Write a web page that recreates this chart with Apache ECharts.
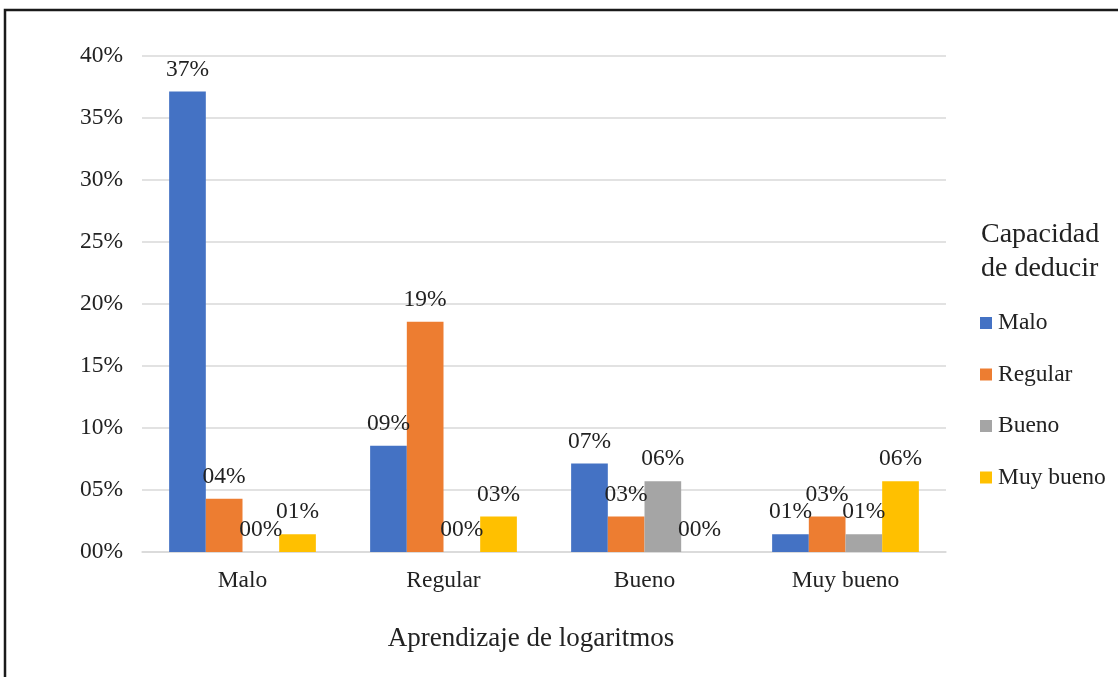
<!DOCTYPE html>
<html>
<head>
<meta charset="utf-8">
<script src="https://cdn.jsdelivr.net/npm/echarts@6/dist/echarts.min.js"></script>
<style>
  html, body { margin: 0; padding: 0; background: #fff; }
  #chart { width: 1118px; height: 677px; }
</style>
</head>
<body>
<div id="chart"></div>
<script>
// Aprendizaje de logaritmos vs. capacidad de deducir (porcentaje del total)
const categories = ['Malo', 'Regular', 'Bueno', 'Muy bueno'];
const seriesNames = ['Malo', 'Regular', 'Bueno', 'Muy bueno'];
const valMalo     = [37.14, 8.57, 7.14, 1.43];
const valRegular  = [4.29, 18.57, 2.86, 2.86];
const valBueno    = [0.00, 0.00, 5.71, 1.43];
const valMuyBueno = [1.43, 2.86, 0.00, 5.71];
const yTicks = { min: 0, max: 40, step: 5 };
const colors = ['#4472C4', '#ED7D31', '#A5A5A5', '#FFC000'];

const FONT = '"Liberation Serif", "Times New Roman", serif';
const TEXT = '#222222';
const pct = v => String(Math.round(v)).padStart(2, '0') + '%';

const seriesValues = [valMalo, valRegular, valBueno, valMuyBueno];

const chart = echarts.init(document.getElementById('chart'), null, { renderer: 'canvas' });

chart.setOption({
  backgroundColor: '#fff',
  animation: false,
  textStyle: { fontFamily: FONT, color: TEXT },
  title: {
    text: 'Capacidad\nde deducir',
    left: 981,
    top: 218,
    padding: 0,
    textStyle: { fontFamily: FONT, fontSize: 28, fontWeight: 'normal', color: TEXT, lineHeight: 34 }
  },
  legend: {
    orient: 'vertical',
    left: 980,
    top: 311,
    padding: 0,
    itemWidth: 12,
    itemHeight: 12,
    itemGap: 27.5,
    icon: 'rect',
    data: seriesNames,
    textStyle: { fontFamily: FONT, fontSize: 23.5, color: TEXT, padding: [0, 0, 0, 1] }
  },
  grid: { left: 142, right: 172, top: 56, bottom: 125, containLabel: false },
  xAxis: {
    type: 'category',
    data: categories,
    name: 'Aprendizaje de logaritmos',
    nameLocation: 'middle',
    nameGap: 73,
    nameTextStyle: { fontFamily: FONT, fontSize: 27, color: TEXT, padding: [0, 26, 0, 0] },
    axisLine: { show: true, lineStyle: { color: '#D9D9D9', width: 1.5 } },
    axisTick: { show: false },
    axisLabel: { fontFamily: FONT, fontSize: 23.5, color: TEXT, margin: 17 }
  },
  yAxis: {
    type: 'value',
    min: yTicks.min,
    max: yTicks.max,
    interval: yTicks.step,
    axisLine: { show: false },
    axisTick: { show: false },
    splitLine: { lineStyle: { color: '#D9D9D9', width: 1.5 } },
    axisLabel: { fontFamily: FONT, fontSize: 23.5, color: TEXT, margin: 19, formatter: pct }
  },
  series: seriesNames.map((name, i) => ({
    name,
    type: 'bar',
    data: seriesValues[i],
    barGap: '0%',
    barCategoryGap: '27%',
    itemStyle: { color: colors[i] },
    label: {
      show: true,
      position: 'top',
      distance: 10,
      fontFamily: FONT,
      fontSize: 23.5,
      color: TEXT,
      formatter: p => pct(p.value)
    }
  })),
  graphic: [{
    type: 'polyline',
    silent: true,
    shape: { points: [[5, 677], [5, 10], [1118, 10]] },
    style: { stroke: '#1a1a1a', lineWidth: 2.5, fill: null }
  }]
});
</script>
</body>
</html>
